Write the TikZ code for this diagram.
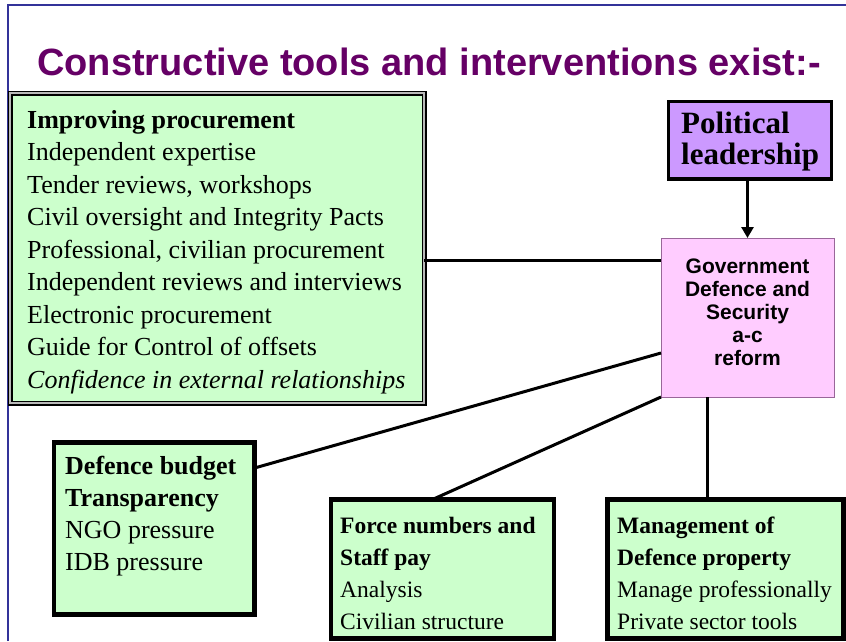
\documentclass[tikz,border=0pt]{standalone}
\usepackage{fontspec}
\setmainfont{Liberation Serif}
\setsansfont{Liberation Sans}
\usetikzlibrary{arrows.meta}
\definecolor{frameblue}{RGB}{51,51,153}
\definecolor{titlepurple}{RGB}{102,0,102}
\definecolor{boxgreen}{RGB}{204,255,204}
\definecolor{polpurple}{RGB}{204,153,255}
\definecolor{govpink}{RGB}{255,204,255}
\definecolor{govedge}{RGB}{153,102,153}
\begin{document}
\begin{tikzpicture}[x=1pt,y=-1pt,
  box/.style={rectangle, inner sep=0pt, outer sep=0pt, fill=boxgreen, draw=black, line width=4.5pt},
  conn/.style={line width=3pt, black},
  bigtxt/.style={anchor=base west, inner sep=0pt, font=\fontsize{26}{30}\selectfont},
  smalltxt/.style={anchor=base west, inner sep=0pt, font=\fontsize{23.5}{28}\selectfont},
  govtxt/.style={anchor=base, inner sep=0pt, font=\sffamily\bfseries\fontsize{21}{23}\selectfont},
  poltxt/.style={anchor=base west, inner sep=0pt, font=\bfseries\fontsize{31}{31}\selectfont}
]
\useasboundingbox (0,0) rectangle (846,641);
\fill[white] (0,0) rectangle (846,641);
\draw[frameblue, line width=2pt] (7.5,641) -- (7.5,5) -- (846,5);

% title
\node[anchor=base, inner sep=0pt, text=titlepurple, font=\sffamily\bfseries\fontsize{38}{40}\selectfont] (title) at (429,75.5) {Constructive tools and interventions exist:-};

% boxes
\node[box, line width=1.2pt, double=gray!55, double distance=2pt, minimum width=414pt, minimum height=310pt] (proc) at (217.3,248.3) {};
\node[box, minimum width=200.5pt, minimum height=172pt] (def) at (154.25,528.5) {};
\node[box, minimum width=223.2pt, minimum height=138.8pt] (force) at (442.4,569.1) {};
\node[box, minimum width=235.8pt, minimum height=138.8pt] (mgmt) at (725.4,569.1) {};
\node[box, fill=polpurple, line width=3.5pt, minimum width=162.6pt, minimum height=77.7pt] (pol) at (750,140.15) {};
\node[box, fill=govpink, draw=govedge, line width=1pt, minimum width=173pt, minimum height=159pt] (gov) at (747.5,317.5) {};

% connectors
\draw[conn] (proc.east |- 0,260) -- (gov.west |- 0,260);
\draw[conn] (gov.west |- 0,353) -- (def.east |- 0,468);
\draw[conn] (gov.south west) -- (force.north -| 432,0);
\draw[conn] (gov.south -| 707,0) -- (mgmt.north -| 707,0);
\draw[conn, -{Triangle[width=12pt,length=11pt]}] (pol.south -| gov.north) -- (gov.north);

% texts
\foreach \t [count=\i] in {\textbf{Improving procurement}, Independent expertise, {Tender reviews, workshops}, Civil oversight and Integrity Pacts, {Professional, civilian procurement}, Independent reviews and interviews, Electronic procurement, Guide for Control of offsets, \textit{Confidence in external relationships}}
  \node[bigtxt] (proc\i) at (27,{128+32.5*(\i-1)}) {\t};

\foreach \t [count=\i] in {\textbf{Defence budget}, \textbf{Transparency}, NGO pressure, IDB pressure}
  \node[bigtxt] (def\i) at (65,{474+32*(\i-1)}) {\t};

\foreach \t [count=\i] in {\textbf{Force numbers and}, \textbf{Staff pay}, Analysis, Civilian structure}
  \node[smalltxt] (force\i) at (340,{533+32*(\i-1)}) {\t};

\foreach \t [count=\i] in {\textbf{Management of}, \textbf{Defence property}, Manage professionally, Private sector tools}
  \node[smalltxt] (mgmt\i) at (617,{533+32*(\i-1)}) {\t};

\node[poltxt] (pol1) at (681,133) {Political};
\node[poltxt] (pol2) at (681,164) {leadership};

\foreach \t [count=\i] in {Government, Defence and, Security, a-c, reform}
  \node[govtxt] (gov\i) at (747.5,{273+23.2*(\i-1)}) {\t};
\end{tikzpicture}
\end{document}
